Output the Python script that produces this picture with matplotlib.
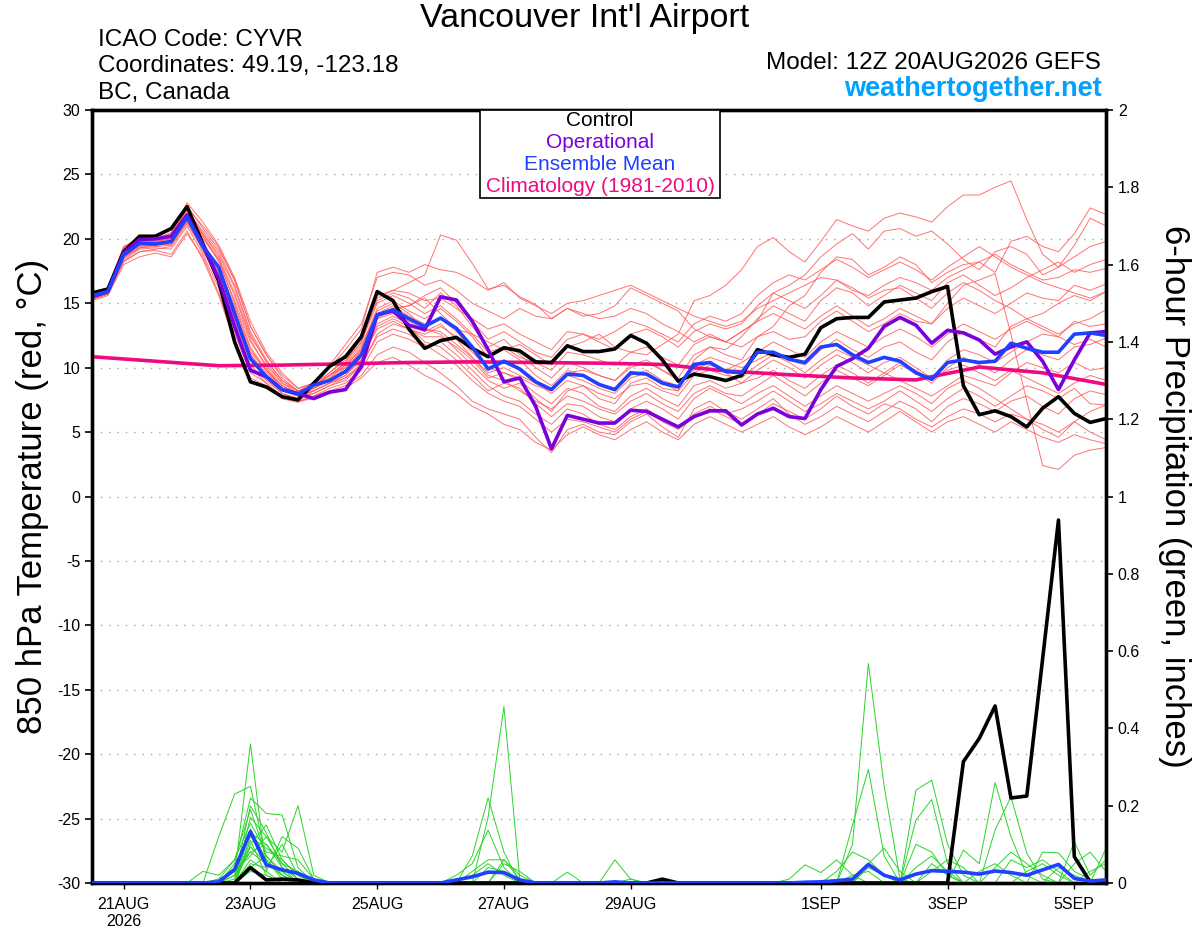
import numpy as np
import matplotlib
matplotlib.use("Agg")
import matplotlib.pyplot as plt
from matplotlib.patches import Rectangle

plt.rcParams['font.family'] = ['Liberation Sans', 'DejaVu Sans']
plt.rcParams['axes.unicode_minus'] = False

# --- time axis: 6-hourly steps from 12Z 20AUG2026 ---
steps = np.arange(65)
tick_steps = [2, 10, 18, 26, 34, 46, 54, 62]
tick_labels = ["21AUG\n2026", "23AUG", "25AUG", "27AUG", "29AUG", "1SEP", "3SEP", "5SEP"]

# --- 850 hPa temperature (C) ---
control_t = [15.8, 16.1, 19.0, 20.2, 20.2, 20.8, 22.5, 19.6, 16.7, 12.0,
             8.9, 8.5, 7.75, 7.5, 8.8, 10.1, 10.85, 12.4, 15.9, 15.2,
             13.0, 11.5, 12.1, 12.35, 11.5, 10.85, 11.55, 11.3, 10.45, 10.4,
             11.7, 11.25, 11.25, 11.45, 12.5, 11.9, 10.6, 8.95, 9.5, 9.3,
             9.0, 9.4, 11.4, 11.0, 10.8, 11.05, 13.1, 13.8, 13.9, 13.9,
             15.1, 15.25, 15.4, 15.9, 16.3, 8.6, 6.35, 6.65, 6.2, 5.4,
             6.85, 7.75, 6.45, 5.75, 6.05]

oper_t = [15.5, 15.9, 18.9, 19.95, 20.0, 20.2, 21.85, 19.5, 16.9, 13.2,
          9.8, 9.3, 8.3, 8.0, 7.6, 8.1, 8.3, 10.1, 14.1, 14.4,
          13.3, 12.95, 15.5, 15.25, 13.6, 11.4, 8.9, 9.2, 7.0, 3.7,
          6.3, 6.0, 5.7, 5.7, 6.7, 6.6, 6.0, 5.4, 6.2, 6.65,
          6.65, 5.55, 6.4, 6.85, 6.2, 6.05, 8.3, 10.1, 10.7, 11.5,
          13.2, 13.9, 13.3, 11.9, 12.9, 12.7, 12.15, 11.05, 11.6, 12.0,
          10.5, 8.3, 10.6, 12.7, 12.8]

mean_t = [15.6, 15.9, 18.75, 19.65, 19.6, 19.8, 21.7, 19.4, 17.8, 14.2,
          10.7, 9.3, 8.3, 7.95, 8.65, 9.0, 9.7, 11.0, 14.1, 14.5,
          13.8, 13.2, 13.85, 13.05, 11.6, 9.9, 10.5, 9.9, 8.9, 8.3,
          9.5, 9.4, 8.7, 8.3, 9.6, 9.5, 8.8, 8.5, 10.25, 10.4,
          9.7, 9.6, 11.2, 11.2, 10.65, 10.4, 11.6, 11.8, 11.0, 10.4,
          10.8, 10.5, 9.6, 9.1, 10.4, 10.6, 10.4, 10.5, 11.9, 11.5,
          11.2, 11.2, 12.6, 12.7, 12.5]

clim_steps = [0, 4, 8, 12, 16, 20, 24, 28, 32, 36, 40, 44, 48, 52, 56, 60, 64]
clim_t = [10.85, 10.5, 10.15, 10.2, 10.3, 10.4, 10.45, 10.4, 10.35, 10.25,
          9.75, 9.45, 9.2, 9.05, 10.05, 9.6, 8.7]

red_members = [
    [15.4, 15.8, 19.0, 19.8, 19.9, 20.2, 22.0, 20.0, 18.4, 15.6,
     12.2, 10.0, 8.6, 7.8, 8.0, 8.6, 9.2, 10.3, 13.8, 14.6,
     14.8, 15.4, 14.2, 13.0, 12.6, 12.0, 11.4, 11.8, 11.0, 10.2,
     11.6, 12.0, 12.6, 11.6, 11.2, 11.0, 11.8, 12.6, 15.2, 15.6,
     16.4, 17.6, 19.4, 20.1, 19.0, 18.2, 19.8, 21.5, 21.0, 20.6,
     21.6, 22.0, 21.7, 21.3, 22.5, 23.4, 23.4, 24.0, 24.5, 21.5,
     18.8, 17.8, 19.5, 21.6, 21.0],
    [15.7, 16.1, 19.3, 20.0, 20.0, 20.4, 22.6, 20.8, 19.2, 16.8,
     13.2, 11.0, 9.2, 8.2, 8.6, 9.4, 10.4, 12.4, 15.6, 16.0,
     16.6, 17.2, 20.3, 19.9, 18.1, 16.1, 16.4, 15.5, 14.9, 13.8,
     14.6, 14.2, 13.8, 14.0, 14.6, 14.2, 13.4, 12.8, 12.0, 12.6,
     12.0, 12.8, 13.6, 15.8, 16.4, 17.2, 18.6, 19.6, 20.4, 19.2,
     20.6, 20.8, 20.2, 20.6, 19.6, 18.4, 17.6, 19.0, 19.4, 18.8,
     17.2, 17.8, 18.6, 19.4, 19.8],
    [15.5, 15.9, 18.6, 19.4, 19.5, 19.6, 21.4, 19.0, 17.0, 13.4,
     10.2, 9.0, 8.0, 7.6, 8.4, 9.2, 9.8, 11.4, 14.4, 15.0,
     14.2, 13.0, 12.6, 11.4, 10.2, 9.0, 8.4, 8.8, 7.6, 6.6,
     8.2, 8.6, 7.6, 7.2, 8.8, 9.2, 8.4, 8.2, 10.6, 11.6,
     11.0, 10.6, 12.4, 12.8, 12.2, 12.4, 13.6, 14.4, 13.6, 12.8,
     13.4, 14.2, 13.6, 13.4, 15.0, 16.4, 16.8, 17.3, 12.6, 7.4,
     2.4, 2.1, 3.2, 3.6, 3.8],
    [15.8, 16.2, 19.4, 20.1, 20.0, 20.5, 22.8, 21.3, 19.5, 17.0,
     13.6, 11.2, 9.6, 8.4, 8.8, 10.2, 11.8, 13.4, 17.0, 17.4,
     17.2, 16.4, 16.8, 16.0, 15.0, 14.4, 13.8, 14.6, 14.0, 13.8,
     14.6, 14.0, 14.2, 14.8, 16.2, 15.6, 15.0, 14.4, 13.0, 12.4,
     12.0, 11.6, 12.4, 13.2, 14.8, 15.6, 17.4, 18.6, 18.4, 17.2,
     17.8, 18.6, 18.0, 16.6, 17.4, 18.0, 18.2, 17.4, 19.8, 20.2,
     19.4, 19.0, 20.4, 22.4, 21.9],
    [15.3, 15.7, 18.2, 19.0, 19.2, 19.4, 21.2, 19.2, 16.6, 13.0,
     10.0, 8.8, 7.6, 7.4, 7.8, 8.2, 8.6, 9.4, 11.0, 11.6,
     11.2, 10.4, 9.6, 8.6, 7.4, 6.8, 6.4, 6.0, 4.6, 3.4,
     5.2, 5.6, 5.0, 4.8, 5.8, 6.4, 5.4, 4.6, 6.8, 7.4,
     6.6, 6.0, 6.8, 7.6, 6.4, 5.6, 6.2, 7.0, 6.4, 5.8,
     6.6, 7.4, 6.8, 5.8, 7.0, 7.6, 7.2, 6.6, 7.4, 7.8,
     7.0, 6.4, 7.6, 8.2, 7.9],
    [15.6, 16.0, 19.2, 19.6, 19.8, 20.0, 21.8, 20.4, 18.8, 16.2,
     12.6, 10.4, 8.8, 8.0, 8.6, 9.6, 10.8, 12.2, 15.2, 15.8,
     15.4, 14.6, 15.8, 14.8, 13.2, 11.6, 12.2, 11.0, 10.0, 9.2,
     10.4, 10.0, 9.4, 9.0, 10.2, 10.6, 9.8, 9.2, 11.0, 11.6,
     11.4, 12.4, 13.8, 14.8, 14.2, 13.6, 15.2, 16.2, 15.8, 14.8,
     15.6, 16.4, 15.8, 15.2, 16.6, 17.2, 16.4, 15.6, 16.2, 17.0,
     17.6, 18.2, 17.4, 18.0, 18.4],
    [15.4, 15.8, 18.4, 19.2, 19.3, 19.2, 21.0, 18.8, 16.2, 12.6,
     9.6, 8.8, 7.8, 7.5, 8.0, 8.6, 9.0, 10.2, 12.6, 13.4,
     13.0, 12.6, 13.2, 12.4, 11.2, 10.0, 9.6, 9.0, 8.0, 7.2,
     8.4, 8.0, 7.0, 6.6, 7.8, 8.4, 7.6, 7.0, 8.6, 9.0,
     8.4, 8.8, 9.8, 10.6, 10.0, 9.2, 10.2, 11.0, 10.4, 9.6,
     10.4, 10.8, 10.0, 9.2, 10.6, 11.4, 11.0, 10.4, 11.2, 12.0,
     12.6, 12.4, 13.6, 13.2, 13.4],
    [15.7, 16.1, 19.0, 19.9, 20.0, 20.3, 22.2, 20.6, 19.0, 16.4,
     12.8, 10.6, 9.0, 8.2, 8.4, 9.0, 10.0, 11.6, 14.6, 15.2,
     14.4, 13.8, 14.6, 13.6, 12.4, 10.8, 11.4, 10.6, 9.4, 8.6,
     9.8, 9.4, 8.6, 8.2, 9.4, 9.8, 9.0, 8.6, 10.2, 10.8,
     10.4, 10.0, 10.6, 11.2, 10.6, 10.2, 11.4, 12.2, 11.4, 10.8,
     11.6, 12.0, 11.2, 10.6, 12.0, 12.8, 12.2, 11.6, 13.2, 13.8,
     14.2, 15.0, 15.6, 15.2, 15.9],
    [15.5, 15.9, 18.9, 19.5, 19.6, 19.8, 21.6, 19.6, 17.4, 14.0,
     11.0, 9.6, 8.4, 7.8, 8.2, 8.8, 9.4, 10.6, 13.2, 13.8,
     13.2, 12.0, 11.6, 10.6, 9.4, 8.2, 8.8, 8.4, 7.2, 6.2,
     7.2, 7.0, 6.2, 5.8, 6.8, 7.4, 6.8, 6.0, 7.6, 8.4,
     7.8, 7.2, 8.0, 8.6, 7.8, 7.0, 7.8, 8.6, 8.0, 7.4,
     8.0, 8.6, 8.0, 7.2, 8.4, 9.0, 8.4, 7.6, 6.8, 6.0,
     5.2, 4.6, 5.8, 5.0, 4.4],
    [15.6, 16.0, 18.7, 19.6, 19.7, 19.9, 21.8, 19.8, 17.6, 14.4,
     11.2, 9.8, 8.6, 8.0, 8.6, 9.2, 10.2, 11.8, 14.2, 14.8,
     14.0, 13.4, 13.8, 12.8, 11.4, 9.8, 10.4, 9.8, 8.8, 8.0,
     9.0, 8.6, 8.0, 7.6, 8.6, 8.8, 8.2, 7.8, 9.4, 9.8,
     9.4, 9.2, 10.2, 11.0, 10.4, 9.6, 10.6, 11.4, 10.8, 10.2,
     9.6, 9.0, 8.4, 7.8, 8.6, 9.4, 9.0, 8.6, 9.6, 10.4,
     10.0, 9.6, 10.4, 9.8, 10.0],
    [15.8, 16.2, 19.4, 19.9, 19.9, 20.2, 22.4, 21.0, 19.4, 16.8,
     13.2, 11.0, 9.4, 8.4, 8.8, 10.0, 11.4, 13.0, 17.4, 17.8,
     17.4, 18.0, 17.6, 17.4, 16.8, 16.0, 16.6, 15.4, 14.8, 14.2,
     15.0, 15.2, 15.6, 16.0, 16.4, 15.8, 15.2, 14.6, 14.0, 13.6,
     13.2, 13.6, 14.6, 15.2, 15.8, 16.4, 17.0, 16.8, 16.0, 15.6,
     16.4, 17.0, 16.6, 16.0, 17.0, 17.6, 18.2, 18.8, 18.0, 17.4,
     16.8, 17.0, 17.6, 17.4, 17.7],
    [15.2, 15.6, 18.0, 18.6, 18.9, 18.6, 20.4, 18.6, 15.8, 12.2,
     9.2, 8.6, 7.6, 7.3, 7.8, 8.4, 8.8, 9.8, 12.0, 12.6,
     12.2, 11.6, 12.0, 11.0, 9.8, 8.6, 7.8, 7.4, 6.4, 5.6,
     6.8, 6.4, 5.6, 5.2, 6.2, 6.8, 6.0, 5.4, 6.4, 7.0,
     6.4, 6.8, 7.4, 8.2, 7.4, 6.6, 7.2, 8.0, 7.4, 6.8,
     7.4, 8.2, 7.4, 6.6, 7.6, 8.4, 7.8, 7.0, 7.8, 8.6,
     8.2, 7.6, 8.4, 7.2, 7.1],
    [15.5, 15.9, 18.8, 19.6, 19.7, 19.8, 21.6, 19.4, 17.8, 14.6,
     11.0, 9.4, 8.2, 7.8, 8.4, 9.0, 9.6, 10.6, 13.4, 14.0,
     13.4, 12.8, 13.4, 12.2, 10.8, 9.4, 9.0, 8.2, 7.4, 6.8,
     7.8, 7.4, 6.8, 6.4, 7.4, 8.0, 7.2, 6.6, 8.0, 8.6,
     8.0, 7.8, 8.6, 9.4, 8.6, 7.8, 8.8, 9.8, 9.2, 8.6,
     9.4, 10.2, 9.6, 8.8, 10.0, 10.8, 10.2, 9.6, 10.6, 11.4,
     11.0, 10.6, 11.6, 11.8, 12.3],
    [15.6, 16.0, 19.1, 19.8, 19.8, 20.1, 22.0, 20.2, 18.2, 15.2,
     12.0, 10.2, 8.8, 8.2, 8.8, 9.6, 10.6, 12.0, 15.0, 15.6,
     15.0, 14.2, 14.8, 13.8, 12.6, 11.2, 11.6, 10.8, 10.4, 9.8,
     11.2, 11.0, 10.6, 10.2, 11.2, 11.6, 10.8, 10.2, 11.8, 12.4,
     12.0, 12.8, 13.6, 14.2, 13.6, 13.0, 14.0, 14.8, 14.0, 13.2,
     13.8, 14.6, 14.0, 13.4, 14.6, 15.4, 14.8, 14.2, 15.0, 15.8,
     15.4, 15.2, 16.4, 16.0, 16.5],
    [15.4, 15.8, 18.5, 19.3, 19.4, 19.5, 21.3, 19.2, 17.2, 13.6,
     10.6, 9.2, 8.0, 7.6, 8.2, 8.8, 9.2, 10.2, 12.4, 13.0,
     12.6, 11.8, 11.0, 10.2, 9.0, 8.0, 7.4, 7.0, 6.0, 5.0,
     6.0, 5.8, 5.4, 5.0, 6.0, 6.6, 5.8, 5.2, 6.2, 6.8,
     6.2, 5.6, 6.4, 7.2, 6.6, 6.0, 6.8, 7.8, 7.0, 6.4,
     7.2, 6.8, 6.0, 5.4, 6.2, 6.8, 6.4, 5.8, 6.4, 6.0,
     5.6, 5.0, 5.8, 6.6, 7.1],
    [15.7, 16.1, 19.2, 19.7, 19.9, 20.3, 22.3, 20.4, 18.6, 15.8,
     12.4, 10.6, 9.0, 8.2, 8.6, 9.4, 10.2, 11.4, 14.0, 14.6,
     14.8, 15.6, 16.2, 15.0, 13.6, 12.2, 12.8, 12.0, 11.2, 10.8,
     12.2, 12.6, 12.0, 11.4, 12.6, 13.0, 12.4, 11.6, 12.8, 13.4,
     13.0, 13.4, 14.8, 15.8, 15.2, 14.6, 15.6, 16.8, 16.2, 15.4,
     16.0, 16.2, 15.4, 14.6, 15.8, 16.6, 16.0, 15.2, 14.6, 13.8,
     13.2, 12.6, 13.4, 13.8, 14.5],
    [15.3, 15.7, 18.3, 19.0, 19.1, 18.8, 20.6, 18.4, 15.6, 12.0,
     9.0, 8.6, 7.8, 7.4, 7.6, 8.0, 8.4, 9.2, 10.4, 10.8,
     10.2, 9.4, 8.8, 8.0, 7.0, 6.4, 5.6, 5.2, 4.2, 3.6,
     4.8, 5.4, 4.8, 4.4, 5.2, 5.8, 5.0, 4.4, 5.6, 6.2,
     5.6, 5.0, 5.6, 6.2, 5.4, 4.8, 5.4, 6.2, 5.6, 5.0,
     5.8, 6.6, 5.8, 5.0, 5.8, 6.2, 5.6, 5.0, 5.8, 5.2,
     4.6, 4.2, 4.8, 4.4, 4.1],
    [15.6, 16.0, 18.9, 19.7, 19.8, 20.0, 21.9, 20.2, 18.4, 15.0,
     11.6, 9.8, 8.6, 8.0, 8.6, 9.4, 10.4, 12.0, 15.4, 16.0,
     15.8, 15.2, 15.4, 14.6, 13.8, 13.0, 13.4, 12.6, 12.0, 11.4,
     12.8, 12.6, 12.2, 12.8, 13.6, 13.2, 12.6, 12.0, 13.4, 14.0,
     13.6, 14.2, 15.6, 16.6, 17.2, 16.8, 17.6, 18.4, 17.8, 17.0,
     17.6, 18.2, 17.6, 16.8, 17.8, 18.6, 19.4, 18.6, 17.8, 17.2,
     16.6, 16.2, 15.8, 15.4, 15.9],
    [15.5, 15.9, 18.7, 19.5, 19.5, 19.7, 21.5, 19.3, 17.4, 13.8,
     10.6, 9.4, 8.2, 7.8, 8.2, 8.8, 9.4, 10.8, 13.0, 13.6,
     13.0, 12.4, 12.4, 11.6, 10.6, 9.2, 9.6, 9.2, 8.6, 8.2,
     9.4, 9.0, 8.4, 8.0, 9.2, 9.6, 8.8, 8.2, 9.6, 10.2,
     9.8, 10.4, 11.2, 12.0, 11.4, 10.8, 12.0, 12.8, 12.2, 11.6,
     12.4, 13.0, 12.4, 11.6, 12.6, 13.4, 12.8, 12.2, 13.0, 13.6,
     13.0, 12.4, 11.8, 12.2, 11.6],
    [15.4, 15.8, 18.6, 19.3, 19.5, 19.6, 21.4, 19.6, 17.8, 14.8,
     11.4, 9.8, 8.4, 7.9, 8.6, 9.4, 10.0, 11.2, 13.8, 14.2,
     13.6, 13.0, 12.8, 11.8, 10.8, 9.6, 10.0, 9.4, 8.8, 8.4,
     9.6, 9.8, 9.4, 9.0, 10.0, 10.4, 9.8, 9.0, 9.8, 10.4,
     9.6, 8.8, 9.2, 9.8, 9.0, 8.4, 9.4, 10.2, 9.6, 8.8,
     9.6, 10.4, 9.8, 9.0, 9.8, 10.2, 9.6, 9.0, 9.8, 9.2,
     8.6, 8.0, 8.8, 9.4, 9.0],
]

# --- 6-hour precipitation (inches) ---
control_p = [0, 0, 0, 0, 0, 0, 0, 0, 0, 0,
             0.04, 0.008, 0.01, 0.008, 0, 0, 0, 0, 0, 0,
             0, 0, 0, 0, 0, 0, 0, 0, 0, 0,
             0, 0, 0, 0, 0, 0, 0.01, 0, 0, 0,
             0, 0, 0, 0, 0, 0, 0, 0, 0, 0,
             0, 0, 0, 0, 0, 0.314, 0.374, 0.458, 0.22, 0.225,
             0.58, 0.939, 0.068, 0.003, 0]

mean_p = [0, 0, 0, 0, 0, 0, 0, 0, 0.003, 0.035,
          0.133, 0.047, 0.034, 0.025, 0.008, 0, 0, 0, 0, 0,
          0, 0, 0, 0.008, 0.016, 0.028, 0.027, 0.008, 0, 0,
          0, 0, 0, 0.003, 0, 0, 0, 0, 0, 0,
          0, 0, 0, 0, 0, 0.002, 0.003, 0.006, 0.01, 0.048,
          0.02, 0.008, 0.023, 0.032, 0.03, 0.028, 0.023, 0.031, 0.027, 0.02,
          0.034, 0.048, 0.012, 0.005, 0.008]

# members stored as {step: value}; all other steps are 0
green_members = [
    {9: .02, 10: .36, 11: .03, 25: .17, 26: .456, 27: .01, 49: .04, 50: .02},
    {8: .12, 9: .23, 10: .25, 11: .06, 12: .02, 52: .24, 53: .266, 54: .1, 55: .02},
    {9: .05, 10: .22, 11: .18, 12: .176, 13: .04, 48: .1, 49: .568, 50: .25, 51: .01},
    {10: .17, 11: .12, 12: .08, 13: .2, 14: .02, 24: .07, 25: .22, 26: .08,
     57: .137, 58: .223, 59: .077, 60: .01},
    {7: .03, 8: .02, 9: .06, 10: .155, 11: .08, 12: .07, 13: .06, 14: .01,
     48: .15, 49: .294, 50: .07},
    {9: .04, 10: .13, 11: .1, 12: .05, 13: .01, 23: .02, 24: .05, 25: .137, 26: .04,
     52: .163, 53: .216, 54: .05},
    {10: .094, 11: .05, 12: .03, 33: .06, 34: .01, 62: .107, 63: .02, 64: .06},
    {9: .03, 10: .07, 11: .12, 12: .05, 13: .03, 30: .028, 60: .08, 61: .078, 62: .03, 63: .01},
    {8: .01, 9: .06, 10: .19, 11: .07, 12: .02, 44: .01, 45: .047, 46: .027, 47: .06,
     48: .02, 64: .09},
    {10: .05, 11: .04, 12: .1, 13: .02, 24: .03, 25: .06, 26: .06, 27: .02,
     55: .085, 56: .05, 57: .26, 58: .12, 59: .02},
    {10: .12, 11: .09, 12: .06, 13: .02, 47: .03, 48: .08, 49: .06, 50: .02, 53: .05, 54: .02},
    {9: .01, 10: .2, 11: .13, 12: .04, 26: .05, 27: .03, 58: .06, 59: .04, 60: .06, 61: .03},
    {10: .06, 11: .03, 12: .12, 13: .09, 14: .01, 52: .1, 53: .08, 54: .02,
     62: .05, 63: .08, 64: .03},
    {10: .1, 11: .15, 12: .06, 13: .02, 25: .04, 26: .03, 56: .03, 57: .05, 58: .02},
    {10: .03, 11: .02, 49: .05, 50: .09, 51: .03, 59: .03, 60: .05, 61: .02},
    {9: .02, 10: .08, 11: .05, 12: .02, 34: .01, 53: .03, 54: .06, 55: .04},
    {10: .14, 11: .06, 12: .01, 23: .01, 24: .02, 25: .05, 26: .02, 61: .04, 62: .02},
    {10: .04, 11: .07, 12: .03, 48: .02, 49: .03, 52: .04, 53: .07, 54: .03},
    {10: .11, 11: .02, 26: .06, 27: .01, 57: .04, 58: .08, 59: .05, 60: .02},
    {8: .01, 9: .03, 10: .08, 11: .1, 12: .04, 13: .01, 63: .03, 64: .05},
]

RED = '#ff5a5a'
GREEN = '#2ad42a'
PURPLE = '#7a00dc'
BLUE = '#2040ff'
PINK = '#ee0a80'

fig = plt.figure(figsize=(12, 9.27), dpi=100)
W, H = 1200, 927
ax = fig.add_axes([92 / W, 1 - 883 / H, (1106 - 92) / W, (883 - 110) / H])

for m in red_members:
    ax.plot(steps, m, color=RED, lw=0.7, alpha=0.85, zorder=2)

ax.plot(clim_steps, clim_t, color=PINK, lw=2.6, zorder=4)
ax.plot(steps, control_t, color='black', lw=2.6, zorder=5)
ax.plot(steps, oper_t, color=PURPLE, lw=2.6, zorder=6)
ax.plot(steps, mean_t, color=BLUE, lw=2.6, zorder=7)

ax.set_xlim(0, 64)
ax.set_ylim(-30, 30)
ax.set_yticks(range(-30, 31, 5))
ax.set_xticks(tick_steps)
ax.set_xticklabels(tick_labels, fontsize=11.5)
ax.tick_params(axis='y', labelsize=11.5, direction='out', length=5, width=1.2)
ax.tick_params(axis='x', direction='out', length=4, width=1.0, pad=6)
for y in range(-25, 30, 5):
    ax.axhline(y, color='#a8a8a8', lw=1.0, ls=(0, (1, 5)), zorder=1)
for s in ax.spines.values():
    s.set_linewidth(2.4)
ax.set_ylabel("850 hPa Temperature (red, °C)", fontsize=25, va='center')
ax.yaxis.set_label_coords(-0.059, 0.5)

# precipitation on the right axis
ax2 = ax.twinx()
for g in green_members:
    vals = np.zeros(len(steps))
    for k, v in g.items():
        vals[k] = v
    ax2.plot(steps, vals, color=GREEN, lw=0.7, zorder=2)
ax2.plot(steps, control_p, color='black', lw=2.6, zorder=5)
ax2.plot(steps, mean_p, color=BLUE, lw=2.6, zorder=6)
ax2.set_ylim(0, 2)
ax2.set_xlim(0, 64)
pticks = np.round(np.arange(0, 2.01, 0.2), 1)
ax2.set_yticks(pticks)
ax2.set_yticklabels([f"{t:g}" for t in pticks])
ax2.tick_params(axis='y', labelsize=11.5, direction='out', length=5, width=1.2)
for s in ax2.spines.values():
    s.set_linewidth(2.4)
ax2.set_ylabel("6-hour Precipitation (green, inches)", fontsize=25, rotation=270,
               va='center')
ax2.yaxis.set_label_coords(1.068, 0.5)

# header text
fig.text(585 / W, 1 - 18 / H, "Vancouver Int'l Airport", fontsize=24.5,
         ha='center', va='center')
fig.text(98 / W, 1 - 40 / H, "ICAO Code: CYVR", fontsize=17.5, va='center')
fig.text(98 / W, 1 - 66 / H, "Coordinates: 49.19, -123.18", fontsize=17.5, va='center')
fig.text(98 / W, 1 - 93 / H, "BC, Canada", fontsize=17.5, va='center')
fig.text(1101 / W, 1 - 63 / H, "Model: 12Z 20AUG2026 GEFS", fontsize=17.5,
         ha='right', va='center')
fig.text(1102 / W, 1 - 89 / H, "weathertogether.net", fontsize=19.5,
         fontweight='bold', color='#00a2ff', ha='right', va='center')

# legend box
fig.patches.append(Rectangle((480 / W, 1 - 198 / H), 240 / W, 88 / H,
                             transform=fig.transFigure, facecolor='white',
                             edgecolor='black', lw=1.2, zorder=10))
leg_items = [("Control", 'black'), ("Operational", PURPLE),
             ("Ensemble Mean", BLUE), ("Climatology (1981-2010)", PINK)]
for k, (txt, col) in enumerate(leg_items):
    fig.text(600 / W, 1 - (121 + 21.7 * k) / H, txt, color=col, fontsize=15,
             ha='center', va='center', zorder=11)

fig.savefig("out.png", dpi=100)
